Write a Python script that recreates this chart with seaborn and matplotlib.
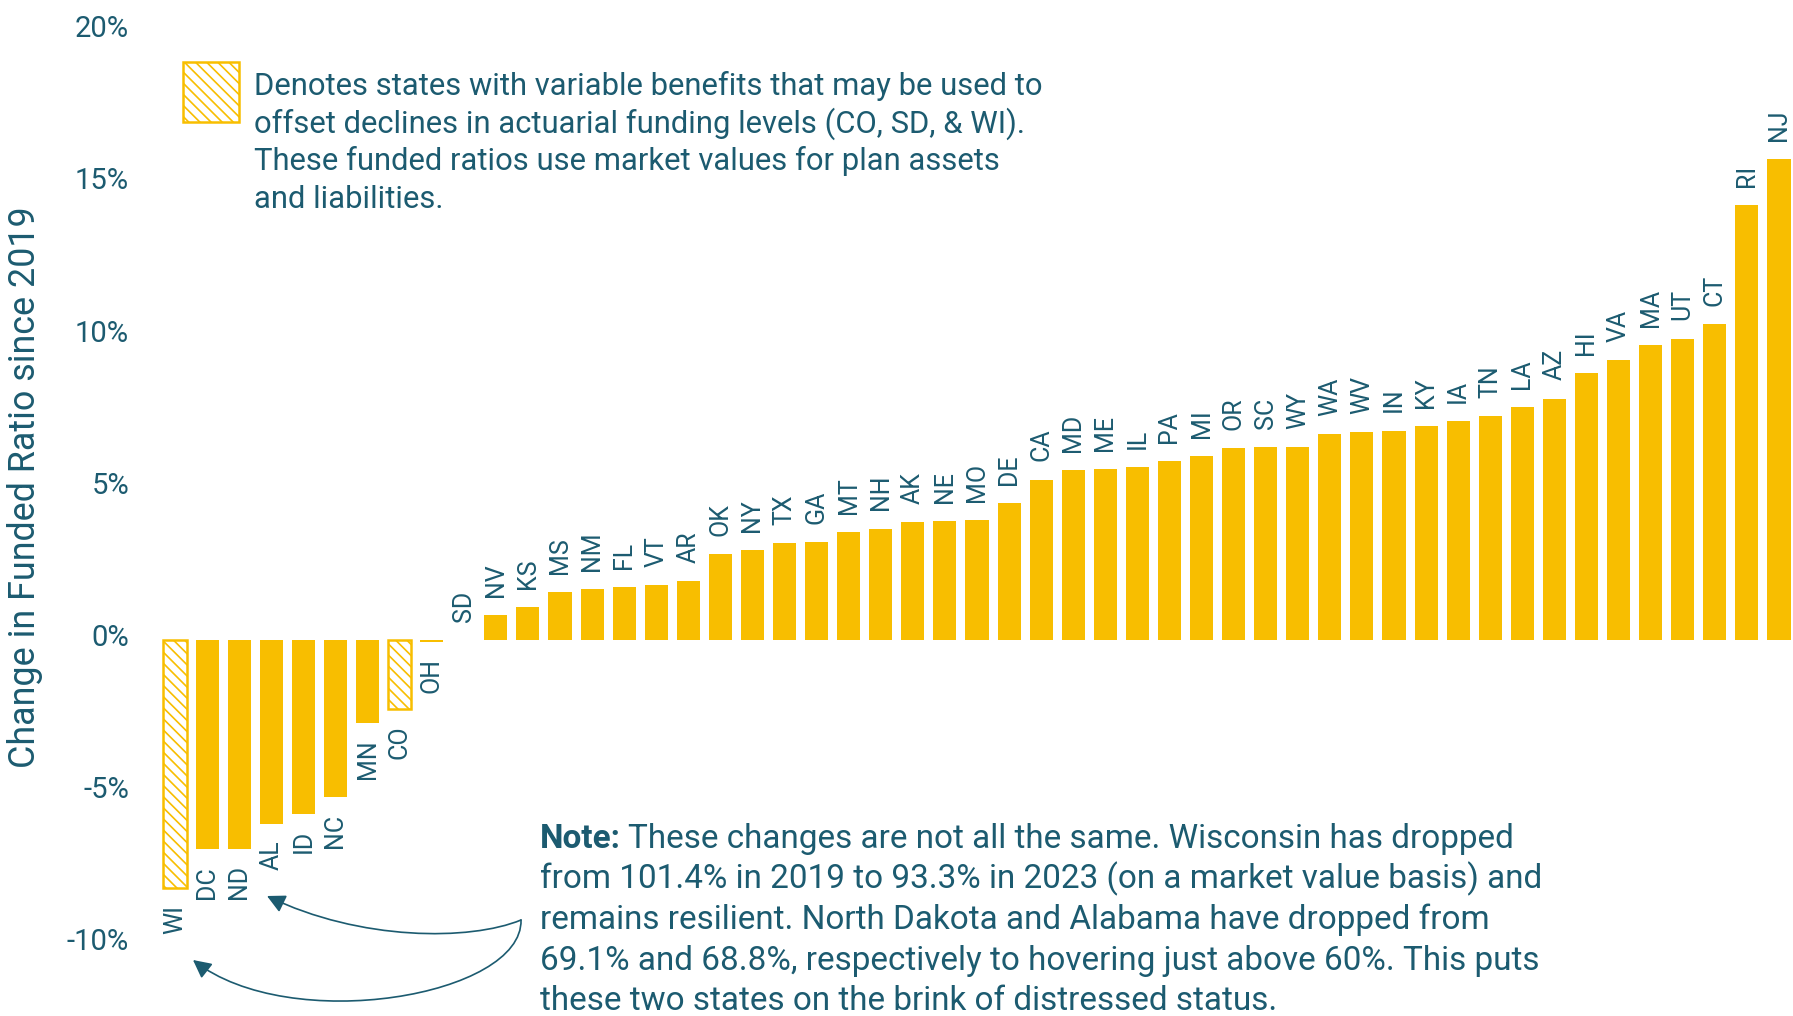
import matplotlib
matplotlib.use("Agg")
import matplotlib.pyplot as plt
import matplotlib.transforms as mtransforms
import seaborn as sns
from matplotlib.patches import Rectangle, FancyArrowPatch
from matplotlib.path import Path

# ---------------- data ----------------
states = ["WI", "DC", "ND", "AL", "ID", "NC", "MN", "CO", "OH", "SD",
          "NV", "KS", "MS", "NM", "FL", "VT", "AR", "OK", "NY", "TX",
          "GA", "MT", "NH", "AK", "NE", "MO", "DE", "CA", "MD", "ME",
          "IL", "PA", "MI", "OR", "SC", "WY", "WA", "WV", "IN", "KY",
          "IA", "TN", "LA", "AZ", "HI", "VA", "MA", "UT", "CT", "RI", "NJ"]
changes = [-8.15, -6.88, -6.85, -6.03, -5.70, -5.17, -2.73, -2.27, -0.05, 0.0,
           0.82, 1.09, 1.57, 1.66, 1.75, 1.80, 1.94, 2.83, 2.96, 3.18,
           3.23, 3.55, 3.66, 3.88, 3.91, 3.95, 4.50, 5.27, 5.59, 5.61,
           5.67, 5.89, 6.05, 6.30, 6.33, 6.35, 6.77, 6.83, 6.88, 7.02,
           7.18, 7.36, 7.65, 7.93, 8.76, 9.19, 9.69, 9.90, 10.39, 14.27, 15.78]
hatched_states = ["WI", "CO", "SD"]
ytick_values = [-10, -5, 0, 5, 10, 15, 20]
ytick_labels = ["-10%", "-5%", "0%", "5%", "10%", "15%", "20%"]
y_label = "Change in Funded Ratio since 2019"
legend_lines = [
    "Denotes states with variable benefits that may be used to",
    "offset declines in actuarial funding levels (CO, SD, & WI).",
    "These funded ratios use market values for plan assets",
    "and liabilities.",
]
note_bold = "Note:"
note_lines = [
    "These changes are not all the same. Wisconsin has dropped",
    "from 101.4% in 2019 to 93.3% in 2023 (on a market value basis) and",
    "remains resilient. North Dakota and Alabama have dropped from",
    "69.1% and 68.8%, respectively to hovering just above 60%. This puts",
    "these two states on the brink of distressed status.",
]

# ---------------- style ----------------
YELLOW = "#F8BE00"
TEAL = "#1c5b70"
W, H, DPI = 1793, 1016, 100
HATCH = "\\\\\\"

sns.set_theme(style="white")
plt.rcParams["font.family"] = ["Roboto", "DejaVu Sans"]
plt.rcParams["hatch.linewidth"] = 1.2

LABEL_SIZE = 18


def fx(x):
    return x / W


def fy(y):
    return 1 - y / H


fig = plt.figure(figsize=(W / DPI, H / DPI), dpi=DPI)
fig.patch.set_facecolor("white")
ax = fig.add_axes([fx(159), fy(944.5), (1795 - 159) / W, (944.5 - 31) / H])

sns.barplot(x=states, y=changes, order=states, color=YELLOW, saturation=1,
            width=0.72, linewidth=0, ax=ax)

ax.set_xlim(-0.5, 50.5)
ax.set_ylim(-10, 20)

# hatched bars
for p in ax.patches:
    idx = int(round(p.get_x() + p.get_width() / 2))
    if states[idx] in hatched_states:
        p.set_facecolor("white")
        p.set_edgecolor(YELLOW)
        p.set_hatch(HATCH)
        p.set_linewidth(1.8 if abs(changes[idx]) > 0 else 0)

# bar labels
for i, (s, v) in enumerate(zip(states, changes)):
    if v >= 0:
        ax.annotate(s, xy=(i, v), xytext=(0, 13), textcoords="offset points",
                    rotation=90, ha="center", va="bottom", color=TEAL,
                    fontsize=LABEL_SIZE)
    else:
        ax.annotate(s, xy=(i, v), xytext=(0, -12), textcoords="offset points",
                    rotation=90, ha="center", va="top", color=TEAL,
                    fontsize=LABEL_SIZE)

ax.set_yticks(ytick_values)
ax.set_yticklabels(ytick_labels)
ax.tick_params(axis="y", length=0, pad=21.6, labelsize=21, labelcolor=TEAL)
ax.tick_params(axis="x", length=0, labelbottom=False)
shift = mtransforms.ScaledTranslation(0, 5 / DPI, fig.dpi_scale_trans)
for lab in ax.get_yticklabels():
    lab.set_transform(lab.get_transform() + shift)
ax.set_xlabel("")
ax.set_ylabel("")
for sp in ax.spines.values():
    sp.set_visible(False)
ax.grid(False)

renderer = fig.canvas.get_renderer()


def fit(texts, target):
    w = max(t.get_window_extent(renderer).width for t in texts)
    for t in texts:
        t.set_fontsize(t.get_fontsize() * target / w)


# y label
yl = fig.text(fx(25), fy(487), y_label, color=TEAL, fontsize=24,
              ha="center", va="center")
fit([yl], 562)
yl.set_rotation(90)

# legend swatch + text
fig.add_artist(Rectangle((fx(183), fy(122)), (239 - 183) / W, (122 - 62) / H,
                         transform=fig.transFigure, facecolor="white",
                         edgecolor=YELLOW, linewidth=1.8, hatch=HATCH))
leg_texts = []
for k, line in enumerate(legend_lines):
    leg_texts.append(fig.text(fx(254), fy(95 + 37.7 * k), line, color=TEAL,
                              fontsize=20, ha="left", va="baseline"))
fit(leg_texts, 787)

# note
NOTE_Y0 = 848
bold = fig.text(fx(540), fy(NOTE_Y0), note_bold, color=TEAL, fontsize=20,
                fontweight="bold", ha="left", va="baseline")
first = ax.annotate(note_lines[0], xy=(1, 0), xycoords=bold, xytext=(5, 0),
                    textcoords="offset points", ha="left", va="bottom",
                    color=TEAL, fontsize=20, annotation_clip=False)
others = []
for k, line in enumerate(note_lines[1:], start=1):
    others.append(fig.text(fx(540), fy(NOTE_Y0 + 40.6 * k), line, color=TEAL,
                           fontsize=20, ha="left", va="baseline"))
w_ref = max(t.get_window_extent(renderer).width for t in others)
scale = 999 / w_ref
for t in others + [bold, first]:
    t.set_fontsize(t.get_fontsize() * scale)

# arrows
style = "-|>,head_length=0.55,head_width=0.28"
arrow_paths = [
    [(521, 920), (470, 941), (360, 941), (267, 896)],
    [(521, 920), (523, 996), (290, 1036), (193, 960)],
]
for pts in arrow_paths:
    verts = [(fx(x), fy(y)) for x, y in pts]
    path = Path(verts, [Path.MOVETO, Path.CURVE4, Path.CURVE4, Path.CURVE4])
    fig.add_artist(FancyArrowPatch(path=path, transform=fig.transFigure,
                                   arrowstyle=style, mutation_scale=20,
                                   color=TEAL, linewidth=1.2))

fig.savefig("out.png", dpi=DPI, facecolor="white")
